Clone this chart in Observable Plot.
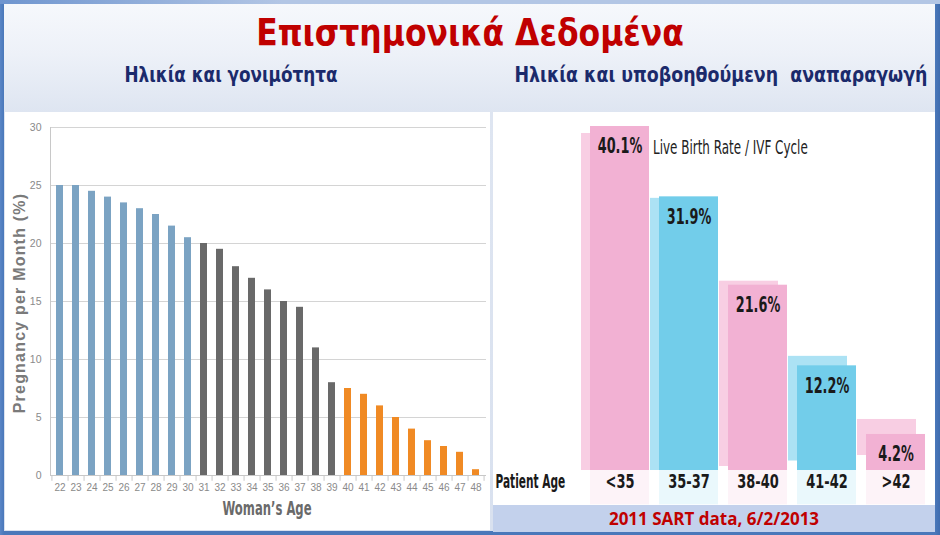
<!DOCTYPE html>
<html><head><meta charset="utf-8">
<script src="https://cdn.jsdelivr.net/npm/d3@7"></script>
<script src="https://cdn.jsdelivr.net/npm/@observablehq/plot@0.6"></script>
<style>
html,body{margin:0;padding:0;}
body{width:940px;height:535px;overflow:hidden;position:relative;background:linear-gradient(90deg,#5A86C6 0,#4A78BA 4px,#4A78BA 935px,#3F6CAF 940px);}
#topband{position:absolute;left:0;top:0;width:940px;height:4px;background:linear-gradient(90deg,#6F95CF,#B3C6E5 30%,#B3C6E5);}
#slide{position:absolute;left:4px;top:4px;width:931px;height:527px;background:linear-gradient(180deg,#F6F8FC 0px,#EDF1F8 50px,#DEE5F1 108px,#D9E1EF 527px);}
#title{position:absolute;left:0;top:9px;width:940px;text-align:center;font-family:"DejaVu Sans Condensed","DejaVu Sans",sans-serif;font-weight:bold;font-size:38px;color:#C00000;line-height:46px;transform:scaleX(0.92);}
.sub{position:absolute;top:62px;font-family:"DejaVu Sans Condensed","DejaVu Sans",sans-serif;font-weight:bold;font-size:22px;color:#1B2A6B;line-height:26px;white-space:nowrap;}
#leftPanel{position:absolute;left:5px;top:112px;width:485px;height:418px;background:#fff;}
#rightPanel{position:absolute;left:493px;top:112px;width:442px;height:393px;background:#fff;}
#caption{position:absolute;left:493px;top:505px;width:442px;height:27px;background:#C3D1EC;text-align:center;font-family:"Open Sans","DejaVu Sans",sans-serif;font-weight:bold;font-size:17px;line-height:28px;color:#C00000;}
#ylab{position:absolute;left:20px;top:303px;transform:translate(-50%,-50%) rotate(-90deg);font-family:"Liberation Sans","Arial",sans-serif;font-weight:bold;font-size:16px;letter-spacing:1.2px;color:#7A7A7A;white-space:nowrap;}
#xlab{position:absolute;left:267px;top:508px;transform:translate(-50%,-50%) scaleX(0.68);font-family:"DejaVu Sans Condensed","DejaVu Sans",sans-serif;font-weight:bold;font-size:19px;color:#6A6A6A;white-space:nowrap;}
svg{display:block;}
</style></head>
<body>
<div id="topband"></div>
<div id="slide"></div>
<div id="title">Επιστημονικά Δεδομένα</div>
<div class="sub" style="left:231px;transform:translateX(-50%) scaleX(0.85);">Ηλικία και γονιμότητα</div>
<div class="sub" style="left:721px;transform:translateX(-50%) scaleX(0.88);">Ηλικία και υποβοηθούμενη&nbsp; αναπαραγωγή</div>
<div id="leftPanel"></div>
<div id="rightPanel"></div>
<div id="caption">2011 SART data, 6/2/2013</div>
<div id="ylab">Pregnancy per Month (%)</div>
<div id="xlab">Woman’s Age</div>
<script>
// ---------- Left chart data ----------
const ages = [22,23,24,25,26,27,28,29,30,31,32,33,34,35,36,37,38,39,40,41,42,43,44,45,46,47,48];
const pregnancyRate = [25,25,24.5,24,23.5,23,22.5,21.5,20.5,20,19.5,18,17,16,15,14.5,11,8,7.5,7,6,5,4,3,2.5,2,0.5];
const ageGroup = ["young","young","young","young","young","young","young","young","young",
                  "mid","mid","mid","mid","mid","mid","mid","mid","mid",
                  "old","old","old","old","old","old","old","old","old"];
const groupNames = ["young","mid","old"];
const groupColors = ["#7BA3C3","#696969","#F08A24"];
const yTicksLeft = [0,5,10,15,20,25,30];

// ---------- Right chart data ----------
const patientAge = ["<35","35-37","38-40","41-42",">42"];
const liveBirthRate = [40.1,31.9,21.6,12.2,4.2];
const barTone = ["pink","blue","pink","blue","pink"];
const toneNames = ["pink","blue"];
const toneFront = ["#F2B1D3","#72CDEA"];
const toneBack = ["#F8CEE3","#ACE2F4"];
const seriesNote = "Live Birth Rate / IVF Cycle";
const axisName = "Patient Age";

const condensed = '"DejaVu Sans Condensed","DejaVu Sans",sans-serif';
// horizontal squeeze of text glyphs (narrow typeface look)
const squeeze = k => (index, scales, values, dims, context, next) => {
  const g = next(index, scales, values, dims, context);
  g.querySelectorAll("text").forEach(t => {
    const tr = t.getAttribute("transform") || "";
    t.setAttribute("transform", tr + ` scale(${k},1)`);
  });
  return g;
};

// Left chart
const leftData = ages.map((a,i)=>({age:String(a), rate:pregnancyRate[i], group:ageGroup[i]}));
const LW = 485, LH = 418, LML = 45, LMR = 4;
const step = (LW - LML - LMR) / ages.length;
const left = Plot.plot({
  width: LW, height: LH,
  marginLeft: LML, marginRight: LMR, marginTop: 15, marginBottom: 55,
  style: {background: "transparent", fontFamily: '"Liberation Sans",sans-serif', color: "#888"},
  x: {type: "band", domain: ages.map(String), paddingInner: 0.55, paddingOuter: 0.275, label: null},
  y: {domain: [0,30], label: null},
  color: {domain: groupNames, range: groupColors},
  marks: [
    Plot.gridY(yTicksLeft, {stroke: "#D4D4D4", strokeOpacity: 1}),
    Plot.frame({anchor: "left", stroke: "#C8C8C8"}),
    Plot.barY(leftData, {x: "age", y: "rate", fill: "group", inset: 0}),
    Plot.ruleY([0], {stroke: "#C8C8C8"}),
    Plot.ruleX(leftData, {x: "age", y1: 0, y2: -0.5, dx: step/2, stroke: "#C8C8C8"}),
    Plot.ruleX(leftData.slice(0,1), {x: "age", y1: 0, y2: -0.5, dx: -step/2, stroke: "#C8C8C8"}),
    Plot.axisY(yTicksLeft, {tickSize: 0, tickPadding: 9, fontSize: 10.5, fill: "#8A8A8A", label: null}),
    Plot.axisX({tickSize: 0, tickPadding: 8, fontSize: 10, fill: "#8A8A8A", label: null})
  ]
});
document.getElementById("leftPanel").appendChild(left);

// Right chart
const rightData = patientAge.map((c,i)=>({cat:c, value:liveBirthRate[i], tone:barTone[i]}));
const frontOf = t => toneFront[toneNames.indexOf(t)];
const backOf = t => toneBack[toneNames.indexOf(t)];
const perspectiveDy = i => 7 - 5.5 * i;   // back face shifts with viewing angle
const right = Plot.plot({
  width: 442, height: 393,
  marginLeft: 80, marginRight: 10, marginTop: 14, marginBottom: 35,
  style: {background: "transparent", fontFamily: condensed, color: "#1a1a1a"},
  x: {type: "band", domain: patientAge, range: [97, 432], paddingInner: 0.145, paddingOuter: 0, label: null, axis: null},
  y: {domain: [0,40.1], label: null, axis: null},
  marks: [
    Plot.rectY(rightData, {x: "cat", y1: 0, y2: -4, fill: d=>frontOf(d.tone), fillOpacity: 0.15, inset: 0}),
    ...rightData.map((d,i) => Plot.barY([d], {x: "cat", y1: 0, y2: "value", fill: backOf(d.tone), dx: -9, dy: perspectiveDy(i), inset: 0, clip: true})),
    Plot.barY(rightData, {x: "cat", y: "value", fill: d=>frontOf(d.tone), inset: 0}),
    Plot.text(rightData, {x: "cat", y: "value", text: d=>d.value.toFixed(1)+"%", dy: 20, fontSize: 21, fontWeight: "bold", fill: "#1a1a1a", render: squeeze(0.68)}),
    Plot.text(rightData.slice(0,1), {x: "cat", y: "value", text: ()=>seriesNote, dy: 21, dx: 33, textAnchor: "start", fontSize: 20, fill: "#222", render: squeeze(0.665)}),
    Plot.text([axisName], {frameAnchor: "bottom-left", dx: -78, dy: 17, textAnchor: "start", fontSize: 19, fontWeight: "bold", fill: "#1a1a1a", render: squeeze(0.62)}),
    Plot.text(rightData, {x: "cat", frameAnchor: "bottom", dy: 17, text: "cat", fontSize: 19, fontWeight: 600, fill: "#1a1a1a", render: squeeze(0.76)})
  ]
});
document.getElementById("rightPanel").appendChild(right);
</script>
</body></html>
